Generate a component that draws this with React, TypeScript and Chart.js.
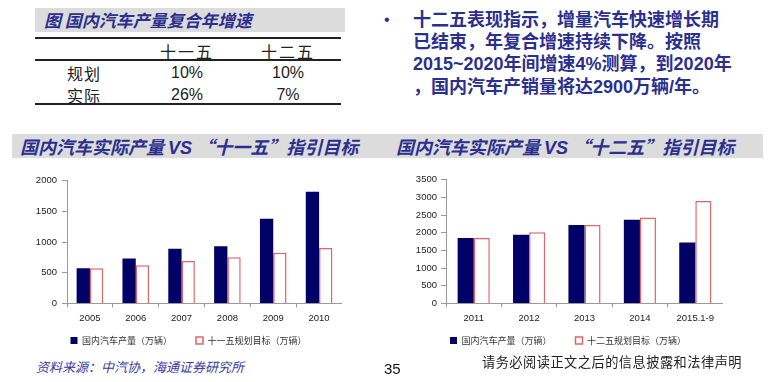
import React, { useEffect, useRef } from "react";
import { Chart, registerables } from "chart.js";

Chart.register(...registerables);

const leftCategories = ["2005", "2006", "2007", "2008", "2009", "2010"];
const leftActual = [571, 731, 890, 930, 1380, 1820];
const leftPlan = [571, 620, 692, 752, 826, 902];
const leftActualLabel = "国内汽车产量（万辆）";
const leftPlanLabel = "十一五规划目标（万辆）";

const rightCategories = ["2011", "2012", "2013", "2014", "2015.1-9"];
const rightActual = [1850, 1940, 2220, 2370, 1720];
const rightPlan = [1850, 2015, 2220, 2430, 2895];
const rightActualLabel = "国内汽车产量（万辆）";
const rightPlanLabel = "十二五规划目标（万辆）";

const NAVY = "#000066";
const RED = "#e06468";
const AXIS = "#9a9a9a";
const TITLE_BLUE = "#2b2f8f";

type BarProps = {
  categories: string[];
  actual: number[];
  plan: number[];
  actualLabel: string;
  planLabel: string;
  max: number;
  yWidth: number;
  padLeft: number;
  tickPad: number;
  plotWidth: number;
};

function BarChart(p: BarProps) {
  const ref = useRef<HTMLCanvasElement | null>(null);
  useEffect(() => {
    if (!ref.current) return;
    const chart = new Chart(ref.current, {
      type: "bar",
      data: {
        labels: p.categories,
        datasets: [
          {
            label: p.actualLabel,
            data: p.actual,
            backgroundColor: NAVY,
            borderColor: NAVY,
            borderWidth: 0,
            barPercentage: 1,
            categoryPercentage: 0.58,
          },
          {
            label: p.planLabel,
            data: p.plan,
            backgroundColor: "#ffffff",
            borderColor: RED,
            borderWidth: 1.5,
            barPercentage: 1,
            categoryPercentage: 0.58,
          },
        ],
      },
      options: {
        animation: false,
        responsive: false,
        maintainAspectRatio: false,
        layout: { padding: { left: p.padLeft, right: 0, top: 8, bottom: 0 } },
        plugins: {
          tooltip: { enabled: false },
          legend: {
            position: "bottom",
            title: {
              display: true,
              text: " ",
              font: { size: 1 },
              padding: { top: 0, bottom: -18 },
            },
            labels: {
              boxWidth: 7,
              boxHeight: 7,
              padding: 24,
              color: "#333",
              font: { family: "'Noto Sans CJK SC', sans-serif", size: 9 },
            },
          },
        },
        scales: {
          x: {
            grid: {
              display: true,
              drawOnChartArea: false,
              drawTicks: true,
              tickLength: 4,
              color: AXIS,
            },
            border: { color: AXIS, width: 1 },
            ticks: {
              padding: 5,
              color: "#222",
              font: { family: "'Liberation Sans', Arial, sans-serif", size: 9.5 },
            },
          },
          y: {
            min: 0,
            max: p.max,
            grid: {
              display: true,
              drawOnChartArea: false,
              drawTicks: true,
              tickLength: 5,
              color: AXIS,
            },
            border: { color: AXIS, width: 1 },
            ticks: {
              stepSize: 500,
              padding: p.tickPad,
              color: "#222",
              font: { family: "'Liberation Sans', Arial, sans-serif", size: 9.5 },
              callback: (v: any) => String(v),
            },
            afterFit: (s: any) => {
              s.width = p.yWidth;
            },
          },
        },
      },
    });
    return () => chart.destroy();
  }, []);
  return <canvas ref={ref} width={p.padLeft + p.yWidth + p.plotWidth} height={185} />;
}

const abs = (l: number, t: number, extra: React.CSSProperties = {}): React.CSSProperties => ({
  position: "absolute",
  left: l,
  top: t,
  ...extra,
});

const cjk = "'Noto Sans CJK SC', 'Liberation Sans', sans-serif";

export default function App() {
  const bulletLines = [
    "十二五表现指示，增量汽车快速增长期",
    "已结束，年复合增速持续下降。按照",
    "2015~2020年间增速4%测算，到2020年",
    "，国内汽车产销量将达2900万辆/年。",
  ];
  const titleStyle: React.CSSProperties = {
    fontFamily: cjk,
    fontStyle: "italic",
    fontWeight: 700,
    color: TITLE_BLUE,
    whiteSpace: "nowrap",
  };
  const tableText: React.CSSProperties = {
    fontFamily: cjk,
    fontSize: 16,
    color: "#222",
    textAlign: "center",
    lineHeight: "20px",
    whiteSpace: "nowrap",
  };
  const numText: React.CSSProperties = {
    ...tableText,
    fontFamily: "'Liberation Sans', Arial, sans-serif",
  };
  return (
    <div style={{ position: "absolute", left: 0, top: 0, width: 780, height: 382, background: "#fff", overflow: "hidden" }}>
      {/* top-left table */}
      <div style={abs(35, 8, { width: 310, height: 24, background: "#dcdcdc" })} />
      <div style={abs(44, 8, { ...titleStyle, fontSize: 17, lineHeight: "24px", letterSpacing: 0 })}>
        图 国内汽车产量复合年增速
      </div>
      <div style={abs(35, 37, { width: 306, height: 2, background: "#222" })} />
      <div style={abs(35, 59, { width: 306, height: 1.5, background: "#222" })} />
      <div style={abs(35, 103, { width: 306, height: 2, background: "#222" })} />
      <div style={abs(137, 41, { ...tableText, width: 100, letterSpacing: 2 })}>十一五</div>
      <div style={abs(238, 41, { ...tableText, width: 100, letterSpacing: 2 })}>十二五</div>
      <div style={abs(44, 63, { ...tableText, width: 80, letterSpacing: 1 })}>规划</div>
      <div style={abs(44, 85, { ...tableText, width: 80, letterSpacing: 1 })}>实际</div>
      <div style={abs(137, 63, { ...numText, width: 100 })}>10%</div>
      <div style={abs(238, 63, { ...numText, width: 100 })}>10%</div>
      <div style={abs(137, 85, { ...numText, width: 100 })}>26%</div>
      <div style={abs(238, 85, { ...numText, width: 100 })}>7%</div>

      {/* bullet text */}
      <div style={abs(384, 9, { fontFamily: "'Liberation Sans', sans-serif", fontSize: 16, lineHeight: "22px", color: TITLE_BLUE })}>•</div>
      {bulletLines.map((t, i) => (
        <div
          key={i}
          style={abs(413, 9 + i * 22.2, {
            fontFamily: "'Liberation Sans', 'Noto Sans CJK SC', sans-serif",
            fontWeight: 700,
            fontSize: 18,
            lineHeight: "22px",
            color: TITLE_BLUE,
            whiteSpace: "nowrap",
          })}
        >
          {t}
        </div>
      ))}

      {/* chart titles */}
      <div style={abs(12, 134, { width: 751, height: 24, background: "#dcdcdc" })} />
      <div style={abs(20, 134, { ...titleStyle, fontSize: 18, lineHeight: "24px" })}>
        国内汽车实际产量 <span style={{ fontFamily: "'Liberation Sans', sans-serif" }}>VS</span> “十一五”指引目标
      </div>
      <div style={abs(396, 134, { ...titleStyle, fontSize: 18, lineHeight: "24px" })}>
        国内汽车实际产量 <span style={{ fontFamily: "'Liberation Sans', sans-serif" }}>VS</span> “十二五”指引目标
      </div>

      {/* charts */}
      <div style={abs(30, 170)}>
        <BarChart
          categories={leftCategories}
          actual={leftActual}
          plan={leftPlan}
          actualLabel={leftActualLabel}
          planLabel={leftPlanLabel}
          max={2000}
          yWidth={32}
          padLeft={5}
          tickPad={5}
          plotWidth={275}
        />
      </div>
      <div style={abs(405, 170)}>
        <BarChart
          categories={rightCategories}
          actual={rightActual}
          plan={rightPlan}
          actualLabel={rightActualLabel}
          planLabel={rightPlanLabel}
          max={3500}
          yWidth={33}
          padLeft={8}
          tickPad={4}
          plotWidth={277}
        />
      </div>

      {/* footer */}
      <div style={abs(36, 357, { fontFamily: cjk, fontStyle: "italic", fontSize: 13, lineHeight: "20px", color: "#3b3ba0", whiteSpace: "nowrap" })}>
        资料来源：中汽协，海通证券研究所
      </div>
      <div style={abs(384, 359, { fontFamily: "'Liberation Sans', sans-serif", fontSize: 15, lineHeight: "20px", color: "#111" })}>35</div>
      <div style={abs(482, 352, { fontFamily: cjk, fontSize: 13.2, letterSpacing: 0.5, lineHeight: "20px", color: "#222", whiteSpace: "nowrap" })}>
        请务必阅读正文之后的信息披露和法律声明
      </div>
    </div>
  );
}
